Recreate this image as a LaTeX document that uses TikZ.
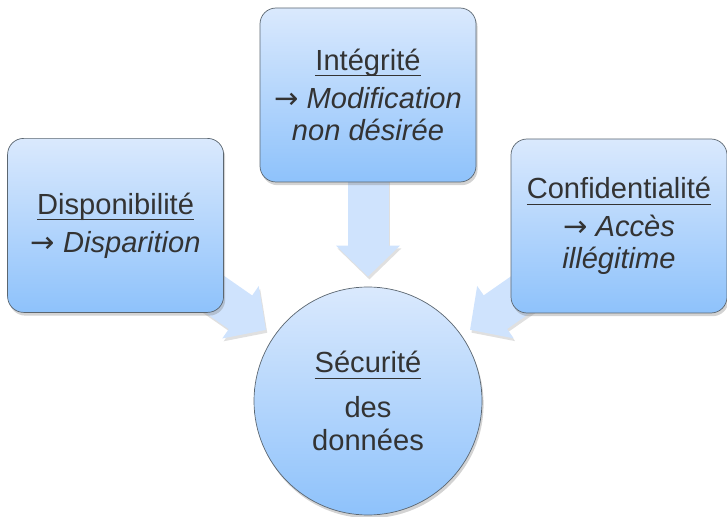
\documentclass[tikz,border=0pt]{standalone}
\usepackage{fontspec}
\setmainfont{Liberation Sans}
\newfontfamily\symb{DejaVu Sans}
\usetikzlibrary{shadows,arrows.meta,backgrounds}

\definecolor{haut}{HTML}{DAE9FD}
\definecolor{bas}{HTML}{8EC2FB}
\definecolor{bord}{HTML}{5B6670}
\definecolor{bleufleche}{HTML}{CFE3FD}
\definecolor{texte}{HTML}{333333}

\newcommand{\titre}[1]{\underline{\raisebox{0pt}[\height][2.4pt]{#1}}}
\newcommand{\fl}{{\upshape\symb →}\ }

\tikzset{
  police/.style={font=\fontsize{20.7}{23}\selectfont, text=texte, align=center},
  boite/.style={police, rectangle, rounded corners=0.4cm, minimum width=5.4cm, minimum height=4.35cm,
    top color=haut, bottom color=bas, draw=bord, line width=0.5pt,
    drop shadow={opacity=0.35, shadow xshift=0.04cm, shadow yshift=-0.08cm}},
  rond/.style={police, circle, minimum size=5.7cm, inner sep=0pt,
    top color=haut, bottom color=bas, draw=bord, line width=0.5pt,
    drop shadow={opacity=0.35, shadow xshift=0.04cm, shadow yshift=-0.08cm}},
  grossefleche/.style={draw=bleufleche, line width=1.025cm,
    -{Triangle[width=1.55cm 0 1, length=0.775cm 0 1]}, shorten >=0.25cm, shorten <=-0.6cm}
}

\begin{document}
\begin{tikzpicture}
\useasboundingbox (0,0) rectangle (18.175,12.925);

\node[boite] (dispo) at (2.89,7.29) {\titre{Disponibilité}\\[4pt] \fl\textit{Disparition}};
\node[boite] (integ) at (9.2,10.55) {\titre{Intégrité}\\[4pt] \fl\textit{Modification}\\ \textit{non désirée}};
\node[boite] (conf) at (15.475,7.275) {\titre{Confidentialité}\\[4pt] \fl\textit{Accès}\\ \textit{illégitime}};
\node[rond] (secu) at (9.2,2.9) {\titre{Sécurité}\\[9pt] des\\ données};

\begin{pgfonlayer}{background}
\foreach \n in {dispo,integ,conf}{
  \draw[grossefleche, draw=black!12, transform canvas={xshift=1pt,yshift=-2pt}] (\n) -- (secu);
  \draw[grossefleche] (\n) -- (secu);
}
\end{pgfonlayer}
\end{tikzpicture}
\end{document}
